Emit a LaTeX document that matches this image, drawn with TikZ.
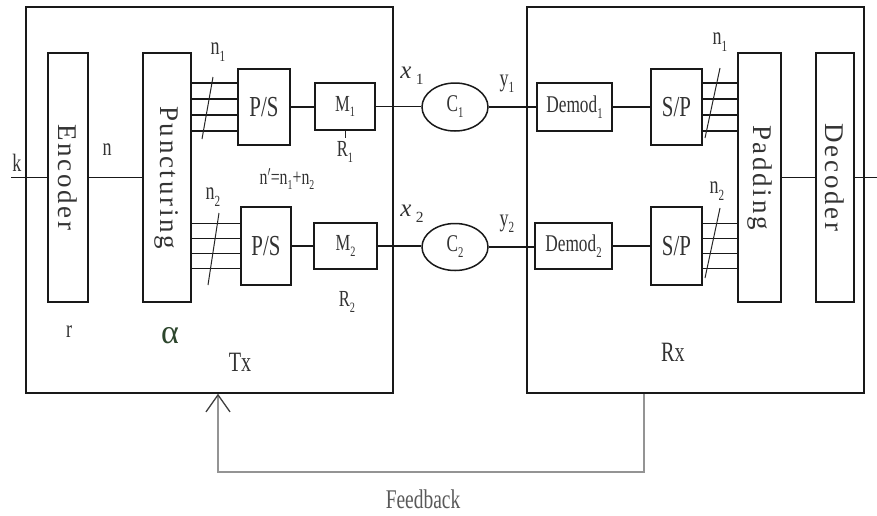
\documentclass[tikz,border=0pt]{standalone}
\usepackage{fontspec}
\setmainfont{Liberation Serif}
\usetikzlibrary{shapes.geometric,arrows.meta,calc}
\newcommand{\cn}[1]{\scalebox{0.72}[1]{#1}}
\newcommand{\fs}[1]{\fontsize{#1}{#1}\selectfont}
\newcommand{\sbs}[1]{\raisebox{-0.25em}{\scalebox{0.62}{#1}}}
\newcommand{\spaced}[1]{{\addfontfeature{LetterSpace=10}#1}}
\begin{document}
\begin{tikzpicture}[x=1pt,y=-1pt,
  blk/.style={draw=black!90, line width=1.5pt, inner sep=0pt},
  wire/.style={line width=1.5pt, draw=black!90},
  thin/.style={line width=1pt, draw=black!85},
  lbl/.style={inner sep=1pt, text=black!80, font=\fs{25}},
  big/.style={inner sep=0pt, text=black!80, font=\fs{29}},
  vtext/.style={inner sep=0pt, text=black!80, font=\fs{27}, rotate=-90},
  fb/.style={line width=1.7pt, draw=black!42}]
\useasboundingbox (0,0) rectangle (877,515);
\fill[white] (0,0) rectangle (877,515);

% outer boxes
\node[blk, minimum width=367pt, minimum height=386pt] (tx) at (209.5,200) {};
\node[blk, minimum width=337pt, minimum height=386pt] (rx) at (695.5,200) {};

% transmitter blocks
\node[blk, minimum width=40pt, minimum height=249pt] (enc) at (68,177.5) {};
\node[vtext] (enct) at (enc.center) {\spaced{Encoder}};
\node[blk, minimum width=48pt, minimum height=249pt] (pun) at (167,177.5) {};
\node[vtext] (punt) at (pun.center) {\spaced{Puncturing}};
\node[blk, minimum width=52pt, minimum height=76pt, big] (ps1) at (264,107) {\cn{P/S}};
\node[blk, minimum width=60pt, minimum height=47pt, font=\fs{23}, text=black!80] (m1) at (345,106.5) {\cn{M\sbs{1}}};
\node[blk, minimum width=50pt, minimum height=78pt, big] (ps2) at (266,246) {\cn{P/S}};
\node[blk, minimum width=63pt, minimum height=46pt, font=\fs{23}, text=black!80] (m2) at (345.5,246) {\cn{M\sbs{2}}};

% channels
\node[blk, ellipse, minimum width=66pt, minimum height=48pt, font=\fs{24}, text=black!80] (c1) at (455,107) {\cn{C\sbs{1}}};
\node[blk, ellipse, minimum width=66pt, minimum height=47pt, font=\fs{24}, text=black!80] (c2) at (455,247) {\cn{C\sbs{2}}};

% receiver blocks
\node[blk, minimum width=75pt, minimum height=48pt, font=\fs{24}, text=black!80] (dm1) at (574.5,107) {\cn{Demod\sbs{1}}};
\node[blk, minimum width=77pt, minimum height=46pt, font=\fs{24}, text=black!80] (dm2) at (573.5,246) {\cn{Demod\sbs{2}}};
\node[blk, minimum width=51pt, minimum height=76pt, big] (sp1) at (676.5,107) {\cn{S/P}};
\node[blk, minimum width=51pt, minimum height=78pt, big] (sp2) at (676.5,246) {\cn{S/P}};
\node[blk, minimum width=43pt, minimum height=249pt] (pad) at (759.5,177.5) {};
\node[vtext] (padt) at (pad.center) {\spaced{Padding}};
\node[blk, minimum width=38pt, minimum height=249pt] (dec) at (835,177.5) {};
\node[vtext] (dect) at (dec.center) {\spaced{Decoder}};

% connectors
\coordinate (kin) at (11,177.5);
\coordinate (out) at (877,177.5);
\draw[wire] (kin) -- (enc.west);
\draw[wire] (enc.east) -- (pun.west);
\foreach \d in {24,8,-8,-24} {
  \draw[wire] ([yshift=\d pt]ps1.west -| pun.east) -- ([yshift=\d pt]ps1.west);
  \draw[wire] ([yshift=\d pt]sp1.east) -- ([yshift=\d pt]sp1.east -| pad.west);
}
\foreach \d in {22.5,7.5,-7.5,-22.5} {
  \draw[wire] ([yshift=\d pt]ps2.west -| pun.east) -- ([yshift=\d pt]ps2.west);
  \draw[wire] ([yshift=\d pt]sp2.east) -- ([yshift=\d pt]sp2.east -| pad.west);
}
\draw[wire] (ps1.east) -- (ps1.east -| m1.west);
\draw[wire] (ps2.east) -- (ps2.east -| m2.west);
\draw[wire] (m1.east) -- (m1.east -| c1.west);
\draw[wire] (m2.east) -- (m2.east -| c2.west);
\draw[wire] (c1.east) -- (c1.east -| dm1.west);
\draw[wire] (c2.east) -- (c2.east -| dm2.west);
\draw[wire] (dm1.east) -- (dm1.east -| sp1.west);
\draw[wire] (dm2.east) -- (dm2.east -| sp2.west);
\draw[wire] (pad.east) -- (pad.east -| dec.west);
\draw[wire] (dec.east) -- (out);

% bus slashes
\draw[thin] (202,139) -- (213,77);
\draw[thin] (208,285) -- (219,213);
\draw[thin] (705,138) -- (720,68);
\draw[thin] (705,278) -- (720,208);

% labels
\node[lbl] (klab) at (17,163) {\cn{k}};
\node[lbl] (nlab) at (107,150) {\cn{n}};
\node[lbl] (n1l) at (218,52) {\cn{n\sbs{1}}};
\node[lbl] (n2l) at (213,197) {\cn{n\sbs{2}}};
\node[lbl, font=\fs{22}] (nsum) at (287,179) {\cn{n$'$=n\sbs{1}+n\sbs{2}}};
\node[lbl, font=\fs{23}] (r1) at (345,152) {\cn{R\sbs{1}}};
\draw[thin] (m1.south) -- (m1.south |- 0,138);
\node[lbl, font=\fs{23}] (r2) at (347,302) {\cn{R\sbs{2}}};
\node[lbl] (rlab) at (69,332) {\cn{r}};
\node[lbl, font=\fs{34}, text={rgb,255:red,45;green,70;blue,45}] (alab) at (170,336) {α};
\node[lbl, font=\fs{28}] (txl) at (240,362) {\cn{Tx}};
\node[lbl, font=\fs{28}] (rxl) at (673,352) {\cn{Rx}};
\node[lbl, font=\fs{27}, text=black!65] (fbl) at (423,499) {\cn{Feedback}};
\node[lbl] (x1l) at (412,76) {\textit{x}\,\sbs{1}};
\node[lbl] (x2l) at (412,214) {\textit{x}\,\sbs{2}};
\node[lbl] (y1l) at (507,84) {\cn{y\sbs{1}}};
\node[lbl] (y2l) at (507,224) {\cn{y\sbs{2}}};
\node[lbl] (n1r) at (720,42) {\cn{n\sbs{1}}};
\node[lbl] (n2r) at (717,191) {\cn{n\sbs{2}}};

% feedback
\coordinate (fbR) at (644,472);
\coordinate (fbL) at (218,472);
\draw[fb, -{Straight Barb[length=17pt,width=24pt,line width=1.3pt,color=black!75]}]
  (rx.south -| fbR) -- (fbR) -- (fbL) -- (tx.south -| fbL);
\end{tikzpicture}
\end{document}
